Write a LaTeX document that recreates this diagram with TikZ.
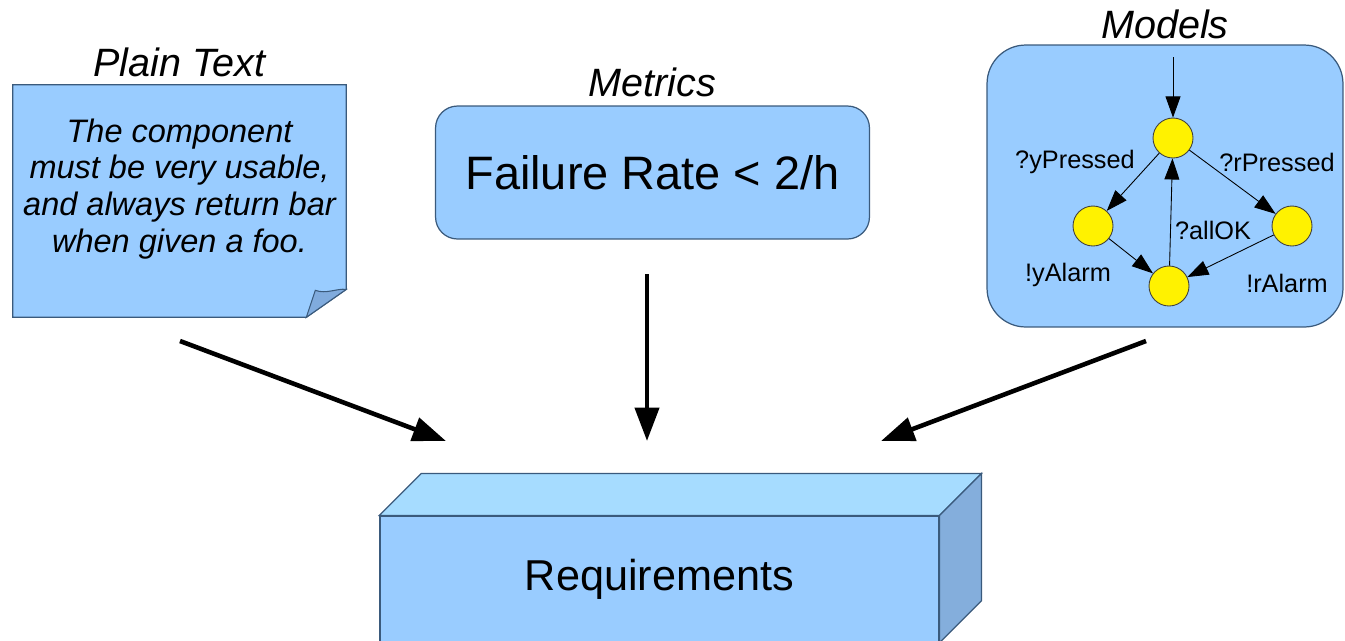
\documentclass[tikz,border=0pt]{standalone}
\usepackage{fontspec}
\setmainfont{Liberation Sans}
\usepackage{xcolor}
\usepackage{tikz}
\usetikzlibrary{arrows.meta, positioning, calc}
\definecolor{boxblue}{HTML}{99CCFF}
\definecolor{topblue}{HTML}{A6DCFF}
\definecolor{sideblue}{HTML}{84AEDC}
\definecolor{flapblue}{HTML}{80ABDD}
\definecolor{edgeblue}{HTML}{3A5A7C}
\tikzstyle{sheet} = [rectangle, draw=none, minimum width=6.66cm, minimum height=4.64cm, inner sep=0pt]
\tikzstyle{notetext} = [align=center, inner sep=0pt, font=\fontsize{18.5}{21}\selectfont\itshape]
\tikzstyle{title} = [inner sep=0pt, font=\fontsize{22.5}{27}\selectfont\itshape]
\tikzstyle{panel} = [rectangle, draw=edgeblue, fill=boxblue, line width=0.7pt]
\tikzstyle{block} = [rectangle, draw=edgeblue, fill=boxblue, line width=0.7pt, inner sep=0pt]
\tikzstyle{state} = [circle, minimum size=0.8cm, inner sep=0pt, draw=black!75, fill=yellow, line width=0.5pt]
\tikzstyle{lbl} = [inner sep=0pt, font=\fontsize{14.4}{17}\selectfont]
\tikzstyle{arrow} = [line width=2.6pt, -{Triangle[length=19pt,width=13.6pt]}]
\tikzstyle{smallarrow} = [line width=0.5pt, -{Triangle[length=12pt,width=8.5pt]}]
\begin{document}
\begin{tikzpicture}[x=0.02cm, y=-0.02cm]
        \useasboundingbox (0,0) rectangle (1345,640);

        % Plain text note
        \node (plain) [sheet] at (179.5,201) {};
        \draw [edgeblue, fill=boxblue, line width=0.7pt] (plain.north west) -- (plain.north east)
          -- ($(plain.south east)+(0,-28)$) -- ($(plain.south east)+(-40,0)$) -- (plain.south west) -- cycle;
        \draw [edgeblue, fill=flapblue, line width=0.6pt] ($(plain.south east)+(-40,0)$)
          .. controls ($(plain.south east)+(-36,-14)$) .. ($(plain.south east)+(-31,-27)$)
          .. controls ($(plain.south east)+(-20,-23)$) and ($(plain.south east)+(-10,-29)$) .. ($(plain.south east)+(0,-28)$) -- cycle;
        \node (plaintext) [notetext] at ($(plain.center)+(0,-12)$) {The component\\must be very usable,\\and always return bar\\when given a foo.};
        \node (plaintitle) [title, above=4.5pt of plain] {Plain Text};

        % Metrics
        \node (metrics) [panel, rounded corners=12.5pt, minimum width=8.68cm, minimum height=2.66cm,
          font=\fontsize{26.7}{32}\selectfont] at (652.5,172.5) {Failure Rate < 2/h};
        \node (metricstitle) [title, above=4.5pt of metrics] {Metrics};

        % Models
        \node (models) [panel, rounded corners=22pt, minimum width=7.12cm, minimum height=5.64cm] at (1165,186) {};
        \node (modelstitle) [title, above=3pt of models] {Models};
        \coordinate (init) at (1173,57);
        \node (s0) [state] at (1173,138) {};
        \node (s1) [state] at (1093,226) {};
        \node (s2) [state] at (1292,226) {};
        \node (s3) [state] at (1169,286) {};
        \draw [smallarrow] (init) -- (s0);
        \draw [smallarrow] (s0) -- (s1);
        \draw [smallarrow] (s0) -- (s2);
        \draw [smallarrow] (s1) -- (s3);
        \draw [smallarrow] (s2) -- (s3);
        \draw [smallarrow] (s3) -- (s0);
        \node (lyp) [lbl] at (1075,162) {?yPressed};
        \node (lrp) [lbl] at (1277,162) {?rPressed};
        \node (lok) [lbl] at (1213,230) {?allOK};
        \node (lya) [lbl] at (1068,275) {!yAlarm};
        \node (lra) [lbl] at (1287,283) {!rAlarm};

        % Requirements block
        \node (req) [block, minimum width=11.18cm, minimum height=2.52cm,
          font=\fontsize{24.6}{29}\selectfont] at (659.5,579) {Requirements};
        \draw [edgeblue, fill=topblue, line width=0.7pt] (req.north west) -- ++(42,-42)
          -- ($(req.north east)+(42,-42)$) -- (req.north east) -- cycle;
        \draw [edgeblue, fill=sideblue, line width=0.7pt] (req.north east) -- ++(42,-42)
          -- ($(req.south east)+(42,-42)$) -- (req.south east) -- cycle;

        % Arrows
        \coordinate (t1) at (180,341);
        \coordinate (h1) at (446,441);
        \coordinate (t2) at (647,274);
        \coordinate (h2) at (647,441);
        \coordinate (t3) at (1146,341);
        \coordinate (h3) at (881,441);
        \draw [arrow] (t1) -- (h1);
        \draw [arrow] (t2) -- (h2);
        \draw [arrow] (t3) -- (h3);
      \end{tikzpicture}
\end{document}
